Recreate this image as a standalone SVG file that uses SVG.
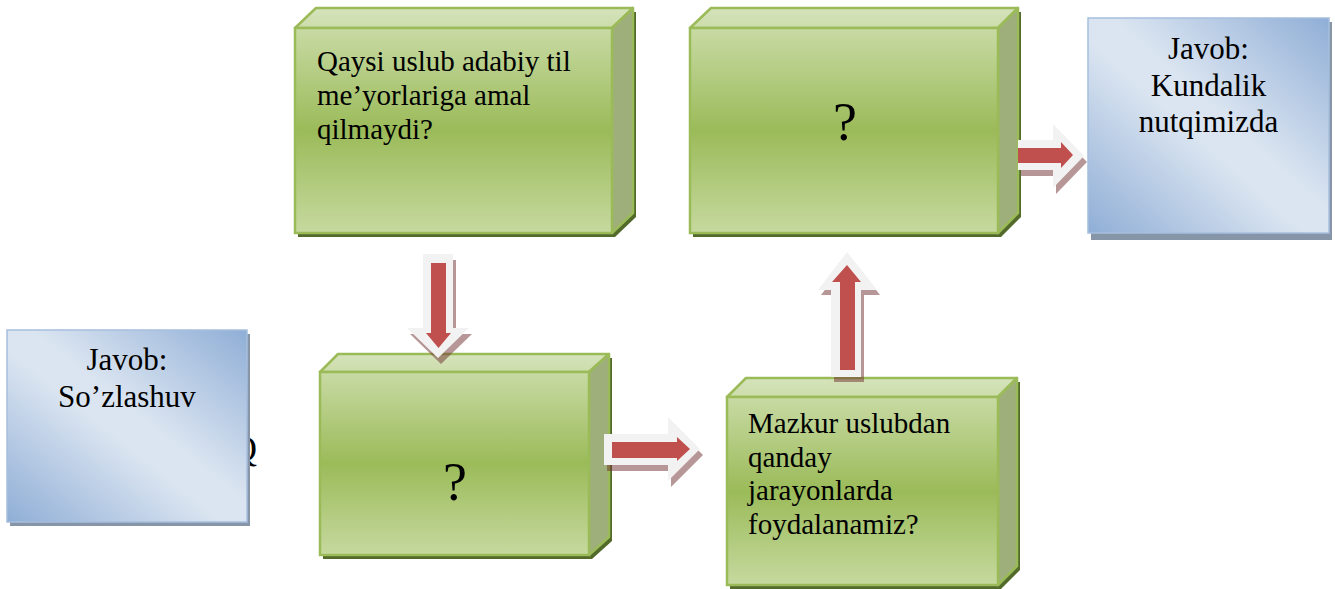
<svg xmlns="http://www.w3.org/2000/svg" width="1335" height="589" viewBox="0 0 1335 589">
<defs>
<linearGradient id="gFront" x1="0" y1="0" x2="0" y2="1">
<stop offset="0" stop-color="#C8DAA4"/>
<stop offset="0.5" stop-color="#9BBB59"/>
<stop offset="1" stop-color="#C6D99F"/>
</linearGradient>
<linearGradient id="gTop" x1="0" y1="0" x2="0" y2="1">
<stop offset="0" stop-color="#D6E3BC"/>
<stop offset="1" stop-color="#CCDDAA"/>
</linearGradient>
<linearGradient id="bFill" x1="1" y1="0" x2="0" y2="1">
<stop offset="0" stop-color="#8FAED6"/>
<stop offset="0.45" stop-color="#DBE5F1"/>
<stop offset="0.55" stop-color="#DBE5F1"/>
<stop offset="1" stop-color="#8FAED6"/>
</linearGradient>
</defs>
<style>
.gshadow{fill:#526A2A}
.gtop{fill:url(#gTop);stroke:#9BBB59;stroke-width:2.5;stroke-linejoin:round}
.gside{fill:#9EAF7B;stroke:#9BBB59;stroke-width:2.5;stroke-linejoin:round}
.gfront{fill:url(#gFront);stroke:#9BBB59;stroke-width:2.5}
.bshadow{fill:#8795A8}
.bbox{fill:url(#bFill);stroke:#A7BFDE;stroke-width:1.5}
.t{font-family:"Liberation Serif","Times New Roman",serif;fill:#000}
.tg{font-size:29px}
.tb{font-size:31px;text-anchor:middle}
.tq{font-size:54px;text-anchor:middle}
.ashadow{fill:#6E2E2E;opacity:0.5}
.aout{fill:#F2F2F2}
.ain{fill:#C0504D}
</style>
<rect width="1335" height="589" fill="#FFFFFF"/>

<g id="hiddenQ">
<text class="t" x="231" y="461" font-size="36">Q</text>
</g>

<g id="ans1">
<rect class="bshadow" x="10" y="334" width="240" height="192"/>
<rect class="bbox" x="7" y="330" width="240" height="192"/>
<text class="t tb" x="127" y="370">Javob:</text>
<text class="t tb" x="127" y="407">So’zlashuv</text>
</g>

<g id="box1">
<polygon class="gshadow" points="298,32 319,12 636,12 636,217 615,237 298,237"/>
<polygon class="gtop" points="295,28 316,8 633,8 612,28"/>
<polygon class="gside" points="612,28 633,8 633,213 612,233"/>
<rect class="gfront" x="295" y="28" width="317" height="205"/>
<text class="t tg" x="317" y="71">Qaysi uslub adabiy til</text>
<text class="t tg" x="317" y="105">me’yorlariga amal</text>
<text class="t tg" x="317" y="139">qilmaydi?</text>
</g>

<g id="box3">
<polygon class="gshadow" points="693,32 714,12 1021,12 1021,217 1001,237 693,237"/>
<polygon class="gtop" points="690,28 711,8 1018,8 998,28"/>
<polygon class="gside" points="998,28 1018,8 1018,213 998,233"/>
<rect class="gfront" x="690" y="28" width="308" height="205"/>
<text class="t tq" x="845" y="140">?</text>
</g>

<g id="ans2">
<rect class="bshadow" x="1091" y="22" width="241" height="218"/>
<rect class="bbox" x="1088" y="18" width="241" height="215"/>
<text class="t tb" x="1208.5" y="59">Javob:</text>
<text class="t tb" x="1208.5" y="96">Kundalik</text>
<text class="t tb" x="1208.5" y="132">nutqimizda</text>
</g>

<g id="box2">
<polygon class="gshadow" points="323,376 341,358 612,358 612,541 592,559 323,559"/>
<polygon class="gtop" points="320,372 338,354 609,354 589,372"/>
<polygon class="gside" points="589,372 609,354 609,537 589,555"/>
<rect class="gfront" x="320" y="372" width="269" height="183"/>
<text class="t tq" x="455" y="500">?</text>
</g>

<g id="box4">
<polygon class="gshadow" points="730,401 749,382 1020,382 1020,570 1001,589 730,589"/>
<polygon class="gtop" points="727,397 746,378 1017,378 998,397"/>
<polygon class="gside" points="998,397 1017,378 1017,566 998,585"/>
<rect class="gfront" x="727" y="397" width="271" height="188"/>
<text class="t tg" x="748" y="433">Mazkur uslubdan</text>
<text class="t tg" x="748" y="467">qanday</text>
<text class="t tg" x="748" y="500">jarayonlarda</text>
<text class="t tg" x="748" y="534">foydalanamiz?</text>
</g>

<g id="connectors">
<!-- box1 -> box2 (down) -->
<g id="arrow-down">
<polygon class="ashadow" transform="translate(3,6)" points="423,254 453,254 453,328 469,328 438,358 407,328 423,328"/>
<polygon class="aout" points="423,254 453,254 453,328 469,328 438,358 407,328 423,328"/>
<polygon class="ain" points="431,263 446,263 446,333 451,333 438.5,348 426,333 431,333"/>
</g>
<!-- box2 -> box4 (right) -->
<g id="arrow-right-low">
<polygon class="ashadow" transform="translate(3,6)" points="604,434 668,434 668,417 700,449 668,481 668,465 604,465"/>
<polygon class="aout" points="604,434 668,434 668,417 700,449 668,481 668,465 604,465"/>
<polygon class="ain" points="612,442 677,442 677,437 690,449 677,461 677,458 612,458"/>
</g>
<!-- box4 -> box3 (up) -->
<g id="arrow-up">
<polygon class="ashadow" transform="translate(3,5)" points="831,377 831,290 818,290 847,252 877,290 861,290 861,377"/>
<polygon class="aout" points="831,377 831,290 818,290 847,252 877,290 861,290 861,377"/>
<polygon class="ain" points="840,370 840,282 832,282 847,265 861,282 855,282 855,370"/>
</g>
<!-- box3 -> answer (right) -->
<g id="arrow-right-top">
<polygon class="ashadow" transform="translate(3,6)" points="1018,140 1053,140 1053,124 1084,156 1053,188 1053,170 1018,170"/>
<polygon class="aout" points="1018,140 1053,140 1053,124 1084,156 1053,188 1053,170 1018,170"/>
<polygon class="ain" points="1018,148 1061,148 1061,142 1073,155 1061,168 1061,163 1018,163"/>
</g>
</g>
</svg>
